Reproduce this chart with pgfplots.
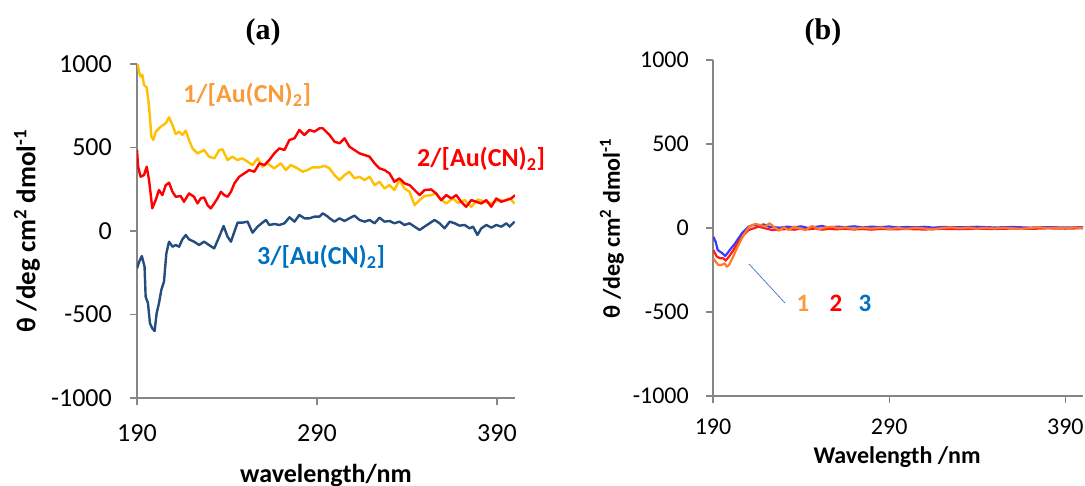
\documentclass[border=0pt]{standalone}
\usepackage{pgfplots}
\pgfplotsset{compat=1.18}
\usepackage{fontspec}
\setmainfont{Carlito}
\newfontfamily\titlefont{Liberation Serif}
\definecolor{axgray}{HTML}{868686}
\definecolor{yelC}{HTML}{FFC000}
\definecolor{redC}{HTML}{FF0000}
\definecolor{navyC}{HTML}{254C7E}
\definecolor{orgLbl}{HTML}{F99B3B}
\definecolor{bluLbl}{HTML}{0070C0}
\definecolor{bBlue}{HTML}{3A3AFF}
\definecolor{bRed}{HTML}{FF1A1A}
\definecolor{bOrg}{HTML}{FF7A26}
\definecolor{leader}{HTML}{4F81BD}
\pgfplotsset{cdstyle/.style={
  scale only axis,
  xmin=190, xmax=400, ymin=-1000, ymax=1000,
  axis x line*=bottom, axis y line*=left,
  axis line style={draw=axgray, line width=1.3pt, -},
  xtick={190,290,390}, xticklabels={190,290,390},
  ytick={-1000,-500,0,500,1000}, yticklabels={-1000,-500,0,500,1000},
  tick align=outside, major tick length=7pt,
  tick style={draw=axgray, line width=1.3pt},
  yticklabel style={anchor=east, inner sep=0pt},
  xticklabel style={anchor=north, inner sep=0pt},
  every axis plot/.append style={line width=2.4pt, line join=round, mark=none},
}}
\begin{document}
\begin{tikzpicture}
\path[use as bounding box] (0,0) rectangle (1085pt,485pt);
% ---------------- panel (a)
\begin{axis}[cdstyle, anchor=south west, at={(137pt,87pt)}, width=378pt, height=334pt,
  ticklabel style={font=\fontsize{26}{31}\selectfont},
  yticklabel style={xshift=-18pt}, xticklabel style={yshift=-19pt}]
\addplot[yelC] coordinates {
(190,1000)(190.6,990)(191.2,950)(192,924)(193,935)(193.9,874)(195.4,860)(196.7,745)(198,565)(199.1,545)
(200.4,595)(203.2,625)(206,645)(207.8,681)(209.7,635)(211.5,581)(213.4,595)(215.2,575)(217.1,601)(218.9,545)
(220.8,495)(223.6,465)(227.3,485)(230,445)(233,435)(235.7,485)(237.5,489)(240.3,425)(243,445)(245.8,425)
(248.6,435)(251.4,415)(254.2,395)(257,435)(259.7,385)(262.5,405)(266.2,375)(269.9,405)(272.7,365)(275.5,395)
(279.2,375)(282,355)(284.7,365)(287.5,381)(291.2,381)(294.2,390)(297,375)(299.7,335)(302.5,305)(305.3,335)
(308,355)(310.8,315)(313.6,325)(316.4,305)(319.2,325)(322,275)(324.7,295)(327.5,255)(330.3,275)(333,245)
(335.8,305)(338.6,255)(341.4,235)(344.2,155)(347,185)(349.7,209)(353.4,215)(356.2,225)(359,185)(361.8,165)
(365.5,195)(368.3,169)(372,185)(375.7,145)(379.4,189)(383.1,175)(386.8,165)(390.5,185)(394.2,181)(397,195)(399.8,165)
};
\addplot[redC] coordinates {
(190,485)(190.6,385)(192,325)(193.9,335)(195.4,385)(196.7,305)(198.5,136)(200.4,186)(202.2,245)(204.1,215)
(206,275)(207.8,289)(209.7,235)(211.5,205)(214.3,209)(216.1,175)(218.9,225)(221.7,205)(223.6,165)(225.4,195)
(227.3,201)(229.2,155)(231,135)(232.9,165)(234.7,195)(236.6,235)(238.5,215)(240.3,205)(242.2,235)(244.1,285)
(246.8,325)(249.6,345)(252.4,365)(255.2,355)(258,405)(260.8,395)(263.5,425)(266.3,465)(269.1,495)(271.9,485)
(274.7,545)(277.5,555)(280.2,605)(283,575)(285.8,605)(288.6,595)(291.4,615)(293.2,615)(296,585)(297,575)
(299.7,535)(302.5,525)(305.3,555)(308,505)(310.8,485)(313.6,465)(316.4,455)(319.2,445)(322,405)(324.7,375)
(327.5,365)(330.3,345)(333,295)(335.8,315)(338.6,285)(341.4,275)(344.2,245)(347,215)(349.7,245)(353.4,249)
(356.2,225)(359,185)(361.8,215)(364.6,195)(367.4,215)(370.1,175)(372.9,145)(375.7,185)(378.5,175)(381.3,165)
(384.1,185)(386.8,145)(389.6,195)(392.4,175)(395.2,185)(398,195)(400,215)
};
\addplot[navyC] coordinates {
(190,-224)(191.2,-184)(192.7,-150)(194.2,-214)(194.8,-393)(196.1,-433)(197.2,-553)(198.5,-583)(199.8,-599)(200.9,-493)
(202.2,-433)(203.5,-353)(205,-303)(206.3,-134)(207.8,-64)(209.7,-94)(211.5,-84)(213.4,-94)(215.2,-50)(217.1,-24)
(218.9,-50)(221.7,-64)(224.5,-84)(227.3,-64)(230,-84)(232.9,-104)(235.7,-34)(238.1,30)(240.3,-34)(242.2,-64)
(244.1,-4)(245.9,50)(248.6,50)(251.4,56)(254.2,-10)(257,26)(259.7,50)(261.6,66)(263.5,36)(266.3,42)
(269.1,36)(271.9,46)(274.7,82)(277.5,56)(280.2,96)(283,76)(285.8,76)(288.6,86)(291.4,86)(293.2,106)
(296,86)(297,76)(299.7,56)(302.5,76)(305.3,60)(308,76)(310.8,92)(313.6,66)(316.4,56)(319.2,66)
(322,46)(324.7,80)(327.5,56)(330.3,60)(333,46)(335.8,56)(338.6,36)(341.4,46)(344.2,26)(347,6)
(349.7,26)(352.5,46)(355.3,66)(358.1,46)(360.9,16)(363.7,56)(366.5,46)(369.2,32)(372,36)(374.8,16)
(376.7,26)(379.1,-24)(381.3,16)(384.1,36)(386.9,20)(389.6,36)(392.4,26)(395.2,46)(397,26)(399.8,56)
};
\end{axis}
% ---------------- panel (b)
\begin{axis}[cdstyle, anchor=south west, at={(713pt,89pt)}, width=370pt, height=336pt,
  ticklabel style={font=\fontsize{24}{29}\selectfont},
  yticklabel style={xshift=-17pt}, xticklabel style={yshift=-16pt},
  every axis plot/.append style={line width=2.2pt}]
\addplot[bBlue] coordinates {
(190.2,-52)(191.5,-82)(192.7,-131)(194,-141)(195.4,-151)(196.9,-167)(198.4,-147)(200.3,-121)(202.6,-91)(204.5,-61)
(206.4,-32)(208.3,-12)(210.2,8)(213,18)(215.9,12)(218.7,22)(221.6,8)(224,5)(228,2)(232,8)(236,4)(240,10)(244,0)
(248,6)(252,12)(256,2)(260,8)(265,5)(270,10)(275,3)(280,8)(285,5)(290,9)(295,3)(300,6)(305,4)(310,7)(315,2)
(320,6)(330,4)(340,7)(350,3)(360,6)(370,2)(380,5)(390,3)(400,5)
};
\addplot[bRed] coordinates {
(190.2,-131)(192.1,-170)(194,-180)(195.8,-180)(197.2,-194)(199.1,-170)(201.6,-131)(204.5,-82)(207.3,-42)(210.2,-12)
(213,-2)(215.9,8)(219.7,-2)(223.5,-12)(229.2,-8)(232,-6)(236,-10)(240,-4)(244,-8)(248,-3)(252,-10)(256,-5)(260,-8)
(265,-4)(270,-9)(275,-6)(280,-10)(285,-5)(290,-8)(300,-6)(310,-9)(320,-5)(330,-7)(340,-4)(350,-6)(360,-3)(370,-5)
(380,-2)(390,-4)(400,-1)
};
\addplot[bOrg] coordinates {
(190.2,-180)(191.5,-200)(193,-220)(194.9,-220)(196.5,-210)(197.8,-230)(199.1,-220)(201,-180)(203.5,-121)(206.4,-61)
(209.2,-12)(211.1,12)(214,24)(216.8,18)(219.7,8)(222,28)(224.5,8)(227.3,-16)(230.2,4)(233,-12)(235.9,8)(238.7,-2)
(242.5,-12)(246.3,12)(250.1,-8)(253.9,4)(257.7,8)(261.5,-2)(265,4)(270,-6)(275,2)(280,-4)(285,3)(290,-6)(295,0)
(300,-5)(305,2)(310,-3)(315,-8)(320,0)(325,4)(330,-2)(335,3)(340,-4)(345,1)(350,-3)(355,2)(360,-2)(365,-5)
(370,0)(375,4)(380,-1)(385,2)(390,-2)(395,3)(400,1)
};
\end{axis}
% ---------------- texts
\node[font=\titlefont\bfseries\fontsize{30}{34}\selectfont] at (263pt,453pt) {(a)};
\node[font=\titlefont\bfseries\fontsize{30}{34}\selectfont] at (823pt,453pt) {(b)};
\node[rotate=90, font=\bfseries\fontsize{27}{32}\selectfont] at (27pt,254pt) {θ /deg cm\textsuperscript{2} dmol\textsuperscript{-1}};
\node[rotate=90, font=\bfseries\fontsize{24}{29}\selectfont] at (612pt,256.5pt) {θ /deg cm\textsuperscript{2} dmol\textsuperscript{-1}};
\node[anchor=base, font=\bfseries\fontsize{26}{31}\selectfont] at (326pt,2pt) {wavelength/nm};
\node[anchor=base, font=\bfseries\fontsize{24}{29}\selectfont] at (897pt,22pt) {Wavelength /nm};
\node[anchor=base west, inner sep=0pt, text=orgLbl, font=\bfseries\fontsize{26}{31}\selectfont] at (183pt,382pt) {1/[Au(CN)\textsubscript{2}]};
\node[anchor=base west, inner sep=0pt, text=redC, font=\bfseries\fontsize{26}{31}\selectfont] at (417pt,318pt) {2/[Au(CN)\textsubscript{2}]};
\node[anchor=base west, inner sep=0pt, text=bluLbl, font=\bfseries\fontsize{26}{31}\selectfont] at (257pt,220pt) {3/[Au(CN)\textsubscript{2}]};
\draw[leader, line width=0.8pt] (749pt,221pt) -- (785pt,182pt);
\node[anchor=base, inner sep=0pt, text=orgLbl, font=\bfseries\fontsize{25}{30}\selectfont] at (803pt,173pt) {1};
\node[anchor=base, inner sep=0pt, text=redC, font=\bfseries\fontsize{25}{30}\selectfont] at (836pt,173pt) {2};
\node[anchor=base, inner sep=0pt, text=bluLbl, font=\bfseries\fontsize{25}{30}\selectfont] at (865pt,173pt) {3};
\end{tikzpicture}
\end{document}
